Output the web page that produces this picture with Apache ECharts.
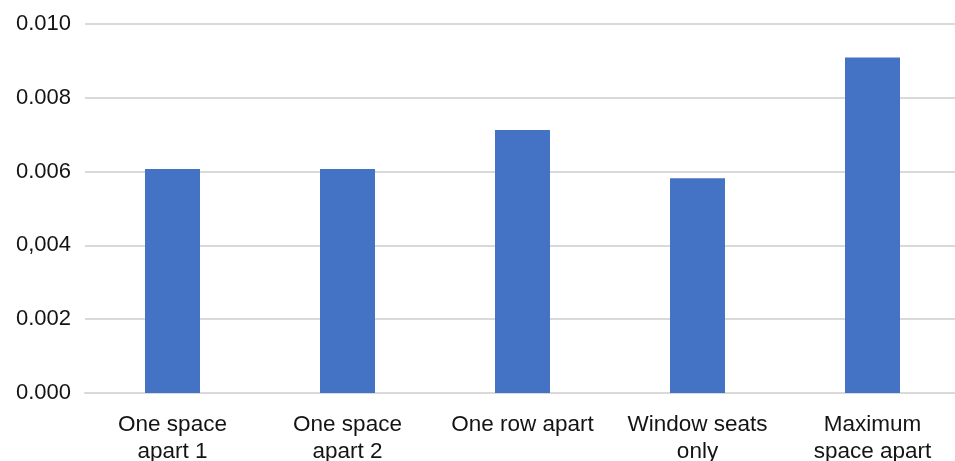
<!DOCTYPE html>
<html>
<head>
<meta charset="utf-8">
<script src="https://cdn.jsdelivr.net/npm/echarts@6/dist/echarts.min.js"></script>
<style>
  html, body { margin: 0; padding: 0; background: #ffffff; }
  #chart { width: 955px; height: 461px; }
</style>
</head>
<body>
<div id="chart"></div>
<script>
// Seating arrangements and their values
const categories = ['One space\napart 1', 'One space\napart 2', 'One row apart', 'Window seats\nonly', 'Maximum\nspace apart'];
const values = [0.00607, 0.00607, 0.00713, 0.00582, 0.00909];
// Tick labels as printed on the value axis, bottom to top
const tickLabels = ['0.000', '0.002', '0,004', '0.006', '0.008', '0.010'];

const chart = echarts.init(document.getElementById('chart'), null, { renderer: 'canvas' });

const font = '"Liberation Sans", Arial, sans-serif';

chart.setOption({
  animation: false,
  backgroundColor: '#ffffff',
  grid: {
    left: 85, top: 24, width: 875, height: 369,
    containLabel: false, outerBoundsMode: 'none'
  },
  xAxis: {
    type: 'category',
    data: categories,
    axisLine: { show: true, lineStyle: { color: '#d9d9d9', width: 2 } },
    axisTick: { show: false },
    axisLabel: {
      color: '#141414', fontFamily: font, fontSize: 22.5, lineHeight: 27,
      margin: 18, interval: 0, align: 'center'
    }
  },
  yAxis: {
    type: 'value',
    min: 0, max: 0.010, interval: 0.002,
    axisLine: { show: false },
    axisTick: { show: false },
    splitLine: { lineStyle: { color: '#d9d9d9', width: 2 } },
    axisLabel: {
      color: '#141414', fontFamily: font, fontSize: 22, margin: 14,
      formatter: function (v) { return tickLabels[Math.round(v / 0.002)]; }
    }
  },
  series: [{
    type: 'bar',
    data: values,
    barWidth: 55,
    itemStyle: { color: '#4472C4' }
  }]
});
</script>
</body>
</html>
